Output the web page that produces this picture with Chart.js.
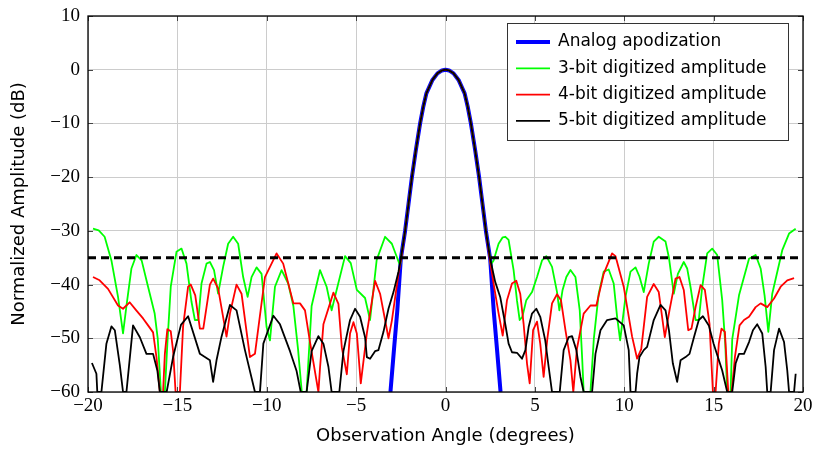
<!DOCTYPE html>
<html lang="en">
<head>
<meta charset="UTF-8">
<title>Array pattern</title>
<script src="https://cdn.jsdelivr.net/npm/chart.js"></script>
<style>
  html, body { margin: 0; padding: 0; background: #fff; }
</style>
</head>
<body>
<canvas id="grafico" width="816" height="450"></canvas>
<script>
  // angle (degrees), amplitude (dB)
  const analog = [
    [-3.08, -60], [-2.88, -52], [-2.7, -45], [-2.5, -35.2], [-2.26, -30], [-2.07, -25], [-1.88, -20],
    [-1.66, -15], [-1.42, -10], [-1.25, -7], [-1.07, -4.4], [-0.73, -1.9], [-0.45, -0.68], [-0.2, -0.13],
    [0, 0], [0.2, -0.13], [0.45, -0.68], [0.73, -1.9], [1.07, -4.4], [1.25, -7], [1.42, -10],
    [1.66, -15], [1.88, -20], [2.07, -25], [2.26, -30], [2.5, -35.2], [2.7, -45], [2.88, -52], [3.08, -60]
  ];

  const bit3 = [
    [-19.72, -29.6], [-19.4, -29.9], [-19.07, -31.1], [-18.69, -35.5], [-18.32, -42.3], [-18.04, -49.1],
    [-17.85, -44], [-17.57, -37], [-17.29, -34.5], [-17.0, -35.5], [-16.64, -40.4], [-16.27, -45.4],
    [-16.1, -50], [-15.92, -60], [-15.7, -60], [-15.56, -51], [-15.37, -40.4], [-15.05, -33.9],
    [-14.77, -33.3], [-14.49, -36.1], [-14.21, -43.2], [-14.02, -46.6], [-13.83, -46.6], [-13.65, -39.8],
    [-13.37, -36.1], [-13.18, -35.8], [-12.95, -37.3], [-12.72, -41.7], [-12.44, -36.7], [-12.16, -32.4],
    [-11.88, -31.1], [-11.6, -32.4], [-11.32, -38.6], [-11.07, -42.3], [-10.85, -38.6], [-10.57, -36.8],
    [-10.29, -38], [-10.01, -47.9], [-9.82, -50.4], [-9.54, -40.4], [-9.17, -37.3], [-8.8, -39.8],
    [-8.51, -44], [-8.25, -52], [-8.04, -60], [-7.77, -60], [-7.49, -44], [-7.02, -37.3], [-6.65, -40.4],
    [-6.37, -44.8], [-6.09, -41], [-5.62, -34.7], [-5.3, -36], [-4.96, -41], [-4.5, -42.5], [-4.22, -46.6],
    [-3.85, -35.4], [-3.38, -31.1], [-3.0, -32.4], [-2.54, -36.5], [-2.45, -34], [-2.26, -30],
    [-2.07, -25], [-1.88, -20], [-1.66, -15], [-1.42, -10], [-1.25, -7], [-1.07, -4.4], [-0.73, -1.9],
    [-0.45, -0.68], [-0.2, -0.13], [0, 0],
    [0.2, -0.13], [0.45, -0.68], [0.73, -1.9], [1.07, -4.4], [1.25, -7], [1.42, -10], [1.66, -15],
    [1.88, -20], [2.07, -25], [2.26, -30], [2.45, -34], [2.53, -36.3],
    [2.69, -35.5], [2.97, -32.4], [3.2, -31.2], [3.35, -31.1], [3.53, -31.7], [3.81, -37.3], [4.0, -43],
    [4.15, -46.6], [4.3, -46], [4.52, -42.9], [4.84, -41.4], [5.12, -38.6], [5.4, -35.5], [5.64, -34.7],
    [5.96, -36.7], [6.24, -41.4], [6.37, -44.8], [6.55, -41], [6.76, -38.6], [6.99, -37.3], [7.27, -38.6],
    [7.51, -44.8], [7.65, -54], [7.73, -60], [8.11, -60], [8.3, -50], [8.57, -41.7], [8.85, -37.6],
    [9.13, -37.2], [9.41, -39.8], [9.6, -46], [9.77, -50.4], [10.07, -42.3], [10.35, -37.6], [10.63, -36.8],
    [10.85, -38.5], [11.09, -41.4], [11.37, -36.1], [11.65, -32], [11.93, -31.1], [12.31, -32], [12.5, -35],
    [12.77, -41.7], [13.0, -38], [13.33, -35.8], [13.52, -37], [13.71, -40.5], [13.99, -46.6], [14.17, -46.6],
    [14.36, -40.5], [14.64, -34.2], [14.92, -33.3], [15.2, -34.5], [15.48, -42.9], [15.65, -51], [15.76, -60],
    [15.95, -60], [16.04, -50.2], [16.42, -42], [16.98, -35.2], [17.35, -34.5], [17.63, -37], [17.85, -42],
    [18.06, -48.8], [18.28, -41.7], [18.84, -33.6], [19.22, -30.5], [19.59, -29.6]
  ];

  const bit4 = [
    [-19.72, -38.6], [-19.35, -39.2], [-18.88, -40.8], [-18.32, -43.9], [-18.04, -44.5], [-17.67, -43.3],
    [-17.3, -44.8], [-16.92, -46.3], [-16.64, -47.6], [-16.36, -48.9], [-16.17, -53.5], [-15.98, -60],
    [-15.8, -60], [-15.7, -52.9], [-15.56, -48.3], [-15.37, -48.7], [-15.24, -52.3], [-15.1, -60],
    [-14.86, -60], [-14.68, -47.8], [-14.4, -40.4], [-14.25, -40], [-14.0, -42], [-13.74, -48.2],
    [-13.55, -48.2], [-13.18, -40], [-13.0, -38.9], [-12.72, -40.7], [-12.25, -49.7], [-12.06, -45.4],
    [-11.69, -40], [-11.41, -41.7], [-10.94, -53.5], [-10.66, -52.9], [-10.1, -38.6], [-9.45, -34.2],
    [-9.08, -36.1], [-8.51, -43.5], [-8.14, -43.5], [-7.86, -44.8], [-7.58, -50.7], [-7.11, -60],
    [-7.02, -55.5], [-6.83, -47.4], [-6.27, -41.5], [-5.99, -43.6], [-5.8, -51.7], [-5.52, -56.7],
    [-5.34, -49.1], [-5.15, -47], [-4.96, -49.1], [-4.74, -58.4], [-4.4, -49.1], [-3.94, -39.3],
    [-3.66, -41.7], [-3.38, -46.6], [-3.19, -50], [-3.0, -46.7], [-2.63, -38], [-2.47, -35],
    [-2.26, -30], [-2.07, -25], [-1.88, -20], [-1.66, -15], [-1.42, -10], [-1.25, -7], [-1.07, -4.4],
    [-0.73, -1.9], [-0.45, -0.68], [-0.2, -0.13], [0, 0],
    [0.2, -0.13], [0.45, -0.68], [0.73, -1.9], [1.07, -4.4], [1.25, -7], [1.42, -10], [1.66, -15],
    [1.88, -20], [2.07, -25], [2.26, -30], [2.48, -35.3],
    [2.7, -40], [2.95, -45], [3.2, -49.5], [3.44, -42.9], [3.72, -39.8], [3.96, -39.3], [4.18, -41.7],
    [4.37, -47.3], [4.56, -54.7], [4.71, -58.4], [4.9, -48.5], [5.12, -46.9], [5.3, -51], [5.49, -57.2],
    [5.7, -50], [5.96, -43.5], [6.24, -41.8], [6.46, -42.9], [6.71, -48.5], [6.99, -54.1], [7.15, -60],
    [7.35, -52], [7.73, -45.4], [8.11, -43.9], [8.44, -43.9], [8.85, -38], [9.32, -34.2], [9.51, -34.7],
    [9.97, -40.4], [10.44, -49.7], [10.72, -53.8], [10.95, -52], [11.28, -42.3], [11.65, -39.9],
    [11.93, -41.4], [12.27, -49.8], [12.53, -44.8], [12.87, -38.9], [13.09, -38.6], [13.33, -41],
    [13.58, -48.5], [13.76, -48.2], [13.99, -44.2], [14.27, -40.1], [14.51, -41], [14.77, -47.3],
    [14.96, -60], [15.11, -60], [15.29, -51], [15.44, -48.2], [15.63, -48.8], [15.82, -60], [16.01, -60],
    [16.19, -53.5], [16.45, -47.6], [16.7, -46.6], [16.98, -46], [17.35, -44.2], [17.63, -43.5],
    [18.0, -44.2], [18.38, -42.6], [18.75, -40.4], [19.12, -39.2], [19.5, -38.8]
  ];

  const bit5 = [
    [-19.78, -54.6], [-19.53, -56.6], [-19.48, -60], [-19.25, -60], [-18.97, -51], [-18.69, -47.8],
    [-18.5, -48.5], [-18.22, -55], [-18.04, -60], [-17.85, -60], [-17.48, -47.6], [-17.1, -49.8],
    [-16.73, -52.9], [-16.36, -52.9], [-16.12, -56], [-15.98, -60], [-15.6, -60], [-15.24, -53.5],
    [-14.8, -47.5], [-14.4, -45.9], [-13.74, -52.9], [-13.46, -53.5], [-13.18, -54.1], [-13.0, -58.1],
    [-12.81, -54.1], [-12.53, -49.7], [-12.06, -43.8], [-11.69, -44.8], [-11.22, -52.2], [-10.66, -60],
    [-10.38, -60], [-10.19, -51], [-9.63, -45.8], [-9.26, -47.4], [-8.7, -52.4], [-8.33, -56.1],
    [-8.1, -60], [-7.77, -60], [-7.49, -52.4], [-7.11, -49.6], [-6.83, -51], [-6.55, -55.3], [-6.37, -60],
    [-5.94, -60], [-5.71, -52.4], [-5.34, -46.6], [-5.06, -44.5], [-4.78, -46], [-4.5, -49.8],
    [-4.4, -53.5], [-4.22, -53.8], [-3.94, -52.4], [-3.75, -52.2], [-3.47, -48.8], [-3.19, -44.5],
    [-2.91, -41.4], [-2.63, -37.6], [-2.5, -35.2], [-2.26, -30], [-2.07, -25], [-1.88, -20],
    [-1.66, -15], [-1.42, -10], [-1.25, -7], [-1.07, -4.4], [-0.73, -1.9], [-0.45, -0.68],
    [-0.2, -0.13], [0, 0],
    [0.2, -0.13], [0.45, -0.68], [0.73, -1.9], [1.07, -4.4], [1.25, -7], [1.42, -10], [1.66, -15],
    [1.88, -20], [2.07, -25], [2.26, -30], [2.5, -35.2],
    [2.78, -39.5], [3.06, -42.3], [3.34, -47.3], [3.53, -51], [3.72, -52.6], [4.0, -52.7], [4.28, -53.8],
    [4.47, -52.2], [4.65, -47.9], [4.84, -45.4], [5.08, -44.5], [5.3, -46], [5.58, -50.4], [5.77, -55.3],
    [5.96, -60], [6.39, -60], [6.61, -52.2], [6.89, -49.8], [7.08, -49.6], [7.32, -52.2], [7.55, -57.2],
    [7.73, -60], [8.2, -60], [8.39, -52.9], [8.67, -48.5], [9.04, -46.6], [9.51, -46.3], [9.97, -47.6],
    [10.25, -52.2], [10.35, -60], [10.63, -60], [10.72, -56.6], [10.85, -53.5], [11.09, -52.2],
    [11.28, -51.6], [11.65, -46.6], [12.03, -43.8], [12.31, -44.8], [12.5, -48.5], [12.72, -54.7],
    [12.96, -58.1], [13.15, -54.1], [13.43, -53.5], [13.65, -52.9], [13.9, -49.8], [14.17, -46.6],
    [14.4, -45.9], [14.73, -47.6], [15.0, -51], [15.48, -56], [15.76, -60], [16.04, -60], [16.23, -54.7],
    [16.42, -52.9], [16.7, -52.9], [16.98, -50.7], [17.2, -48.5], [17.44, -47.4], [17.72, -49.1],
    [17.91, -55.3], [18.0, -60], [18.19, -60], [18.38, -52.2], [18.66, -48.2], [18.94, -50.7],
    [19.12, -56], [19.22, -60], [19.5, -60], [19.59, -56.6]
  ];

  // sidelobe requirement
  const limiteX = [-20, 20];
  const limiteDb = -35;

  const rotulos = [
    'Analog apodization',
    '3-bit digitized amplitude',
    '4-bit digitized amplitude',
    '5-bit digitized amplitude'
  ];

  function pontos(serie) {
    return serie.map(function (p) { return { x: p[0], y: p[1] }; });
  }

  function menos(v) {
    return v < 0 ? '\u2212' + Math.abs(v) : String(v);
  }

  // frame with inward tick marks on all four sides
  const moldura = {
    id: 'moldura',
    afterDatasetsDraw(chart) {
      const ctx = chart.ctx;
      const a = chart.chartArea;
      const sx = chart.scales.x, sy = chart.scales.y;
      ctx.save();
      ctx.strokeStyle = '#444';
      ctx.lineWidth = 1;
      ctx.beginPath();
      sx.ticks.forEach(function (t) {
        const px = Math.round(sx.getPixelForValue(t.value)) + 0.5;
        ctx.moveTo(px, a.bottom); ctx.lineTo(px, a.bottom - 5);
        ctx.moveTo(px, a.top); ctx.lineTo(px, a.top + 5);
      });
      sy.ticks.forEach(function (t) {
        const py = Math.round(sy.getPixelForValue(t.value)) + 0.5;
        ctx.moveTo(a.left, py); ctx.lineTo(a.left + 5, py);
        ctx.moveTo(a.right, py); ctx.lineTo(a.right - 5, py);
      });
      ctx.stroke();
      ctx.strokeStyle = '#000';
      ctx.lineWidth = 1.3;
      ctx.strokeRect(a.left, a.top, a.right - a.left, a.bottom - a.top);
      ctx.restore();
    }
  };

  // boxed legend in the upper right corner
  const legenda = {
    id: 'legenda',
    afterDraw(chart) {
      const ctx = chart.ctx;
      const x0 = 507, y0 = 23, w = 281, h = 117;
      ctx.save();
      ctx.fillStyle = '#fff';
      ctx.fillRect(x0, y0, w, h);
      ctx.strokeStyle = '#333';
      ctx.lineWidth = 1;
      ctx.strokeRect(x0 + 0.5, y0 + 0.5, w, h);
      ctx.font = '17px "DejaVu Sans"';
      ctx.textBaseline = 'middle';
      chart.data.datasets.forEach(function (ds, i) {
        if (!ds.label) return;
        const yy = y0 + 19 + i * 26.3;
        ctx.strokeStyle = ds.borderColor;
        ctx.lineWidth = ds.borderWidth;
        ctx.beginPath();
        ctx.moveTo(x0 + 9, yy);
        ctx.lineTo(x0 + 43, yy);
        ctx.stroke();
        ctx.fillStyle = '#000';
        ctx.fillText(ds.label, x0 + 51, yy);
      });
      ctx.restore();
    }
  };

  const fonteEixo = { family: '"Liberation Serif", serif', size: 19 };
  const fonteTitulo = { family: '"DejaVu Sans", sans-serif', size: 18 };

  new Chart(document.getElementById('grafico').getContext('2d'), {
    type: 'line',
    data: {
      datasets: [
        { label: rotulos[0], data: pontos(analog), borderColor: '#0000ff', borderWidth: 4, order: 4 },
        { label: rotulos[1], data: pontos(bit3), borderColor: '#00ff00', borderWidth: 1.8, order: 3 },
        { label: rotulos[2], data: pontos(bit4), borderColor: '#ff0000', borderWidth: 1.8, order: 2 },
        { label: rotulos[3], data: pontos(bit5), borderColor: '#000000', borderWidth: 1.8, order: 1 },
        {
          label: '', data: limiteX.map(function (x) { return { x: x, y: limiteDb }; }),
          borderColor: '#000000', borderWidth: 3, borderDash: [8, 5], order: 0
        }
      ]
    },
    options: {
      responsive: false,
      animation: false,
      events: [],
      layout: { padding: { top: 16, right: 13, left: 0, bottom: 0 } },
      elements: { point: { radius: 0 }, line: { tension: 0, borderCapStyle: 'butt', borderJoinStyle: 'round' } },
      plugins: { legend: { display: false }, tooltip: { enabled: false } },
      scales: {
        x: {
          type: 'linear', min: -20, max: 20,
          ticks: { stepSize: 5, padding: 3, color: '#000', font: fonteEixo, callback: menos },
          grid: { color: '#cccccc', drawTicks: false },
          border: { display: false },
          title: {
            display: true, text: 'Observation Angle (degrees)', color: '#000',
            font: fonteTitulo, padding: { top: 0, bottom: 3 }
          },
          afterFit: function (s) { s.height = 58; s.paddingLeft = 0; s.paddingRight = 0; }
        },
        y: {
          min: -60, max: 10,
          ticks: { stepSize: 10, padding: 8, color: '#000', font: fonteEixo, callback: menos },
          grid: { color: '#cccccc', drawTicks: false },
          border: { display: false },
          title: {
            display: true, text: 'Normalized Amplitude (dB)', color: '#000',
            font: fonteTitulo, padding: { top: 9, bottom: 0 }
          },
          afterFit: function (s) { s.width = 88; s.paddingTop = 0; s.paddingBottom = 0; }
        }
      }
    },
    plugins: [moldura, legenda]
  });
</script>
</body>
</html>
